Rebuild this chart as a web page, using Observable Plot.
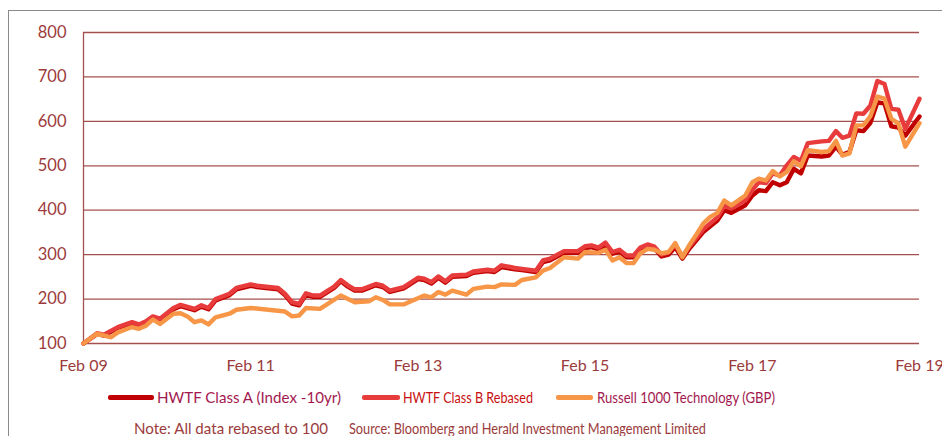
<!DOCTYPE html>
<html>
<head>
<meta charset="utf-8">
<script src="https://cdn.jsdelivr.net/npm/d3@7"></script>
<script src="https://cdn.jsdelivr.net/npm/@observablehq/plot@0.6"></script>
<style>
  html, body { margin: 0; padding: 0; background: #fff; }
  body { width: 942px; height: 436px; overflow: hidden; position: relative; font-family: Lato, "Open Sans", sans-serif; }
  #frame { position: absolute; left: 8px; top: 10px; width: 1000px; height: 500px; border: 1.5px solid #8a8a8a; box-sizing: border-box; }
  #chart { position: absolute; left: 0; top: 0; }
  #chart svg { overflow: visible; }
  .sw { position: absolute; top: 395px; height: 4.5px; border-radius: 2px; }
  .txt { position: absolute; display: inline-block; white-space: pre; transform-origin: 0 50%; font-size: 16px; line-height: 18px; }
</style>
</head>
<body>
<div id="frame"></div>
<div id="chart"></div>
<span class="sw" id="swA" style="left:108px;width:46px"></span>
<span class="sw" id="swB" style="left:362px;width:38px"></span>
<span class="sw" id="swR" style="left:556px;width:37px"></span>
<span class="txt" id="labA" style="left:157px;top:388px" data-w="184"></span>
<span class="txt" id="labB" style="left:403px;top:388px" data-w="130"></span>
<span class="txt" id="labR" style="left:597px;top:388px" data-w="178"></span>
<span class="txt" id="note1" style="left:134px;top:419px;color:#9b3b3b" data-w="194"></span>
<span class="txt" id="note2" style="left:349px;top:419px;color:#9b3b3b" data-w="357"></span>
<script>
// ---- Data (rebased to 100, Feb 2009 = 100) ----
const seriesNames = ["HWTF Class A (Index -10yr)", "HWTF Class B Rebased", "Russell 1000 Technology (GBP)"];
const seriesColors = ["#c00000", "#e83c3c", "#f79646"];
const legendTextColors = ["#a3194f", "#c80f0f", "#a3194f"];
const xTickLabels = ["2009-02", "2011-02", "2013-02", "2015-02", "2017-02", "2019-02"];
const yTickValues = [100, 200, 300, 400, 500, 600, 700, 800];
const noteLeft = "Note: All data rebased to 100";
const noteRight = "Source: Bloomberg and Herald Investment Management Limited";

// Dates shared by HWTF Class A and Class B
const hwtfDates = [
  "2009-02","2009-04","2009-05","2009-07","2009-09","2009-10","2009-11","2009-12","2010-01","2010-03",
  "2010-04","2010-06","2010-07","2010-08","2010-09","2010-11","2010-12","2011-02","2011-03","2011-06",
  "2011-07","2011-08","2011-09","2011-10","2011-11","2011-12","2012-02","2012-03","2012-04","2012-05",
  "2012-06","2012-08","2012-09","2012-10","2012-12","2013-02","2013-03","2013-04","2013-05","2013-06",
  "2013-07","2013-09","2013-10","2013-12","2014-01","2014-02","2014-04","2014-05","2014-07","2014-08",
  "2014-09","2014-11","2015-01","2015-02","2015-03","2015-04","2015-05","2015-06","2015-07","2015-08",
  "2015-09","2015-10","2015-11","2015-12","2016-01","2016-02","2016-03","2016-04","2016-05","2016-07",
  "2016-09","2016-10","2016-11","2017-01","2017-02","2017-03","2017-04","2017-05","2017-06","2017-07",
  "2017-08","2017-09","2017-10","2017-12","2018-01","2018-02","2018-03","2018-04","2018-05","2018-06",
  "2018-07","2018-08","2018-09","2018-10","2018-11","2018-12","2019-02"
];
const classA = [
  100,121,118,135,146,140,148,158,153,177,
  184,175,183,177,197,209,222,230,227,222,
  209,190,186,210,205,205,225,240,228,219,
  219,231,227,216,224,245,243,235,248,237,
  250,252,259,263,261,272,267,265,261,283,
  287,304,304,315,317,312,322,302,307,294,
  294,312,318,314,296,300,317,291,313,351,
  377,400,394,411,433,445,443,463,456,463,
  493,483,523,521,523,543,525,531,580,578,
  596,643,640,589,586,568,611
];
const classB = [
  100,123,120,137,148,143,150,161,156,180,
  187,178,186,180,200,212,225,233,230,225,
  212,193,189,213,208,208,228,243,231,222,
  222,234,230,219,227,248,246,238,251,240,
  253,255,262,266,264,276,270,268,264,287,
  291,308,308,319,321,316,327,306,311,298,
  298,316,323,318,300,305,322,296,318,357,
  384,410,404,422,445,463,461,483,478,501,
  520,511,551,555,556,578,563,568,618,617,
  635,691,684,628,626,583,651
];
const russellDates = [
  "2009-02","2009-04","2009-06","2009-07","2009-09","2009-10","2009-11","2009-12","2010-01","2010-03",
  "2010-04","2010-05","2010-06","2010-07","2010-08","2010-09","2010-11","2010-12","2011-02","2011-07",
  "2011-08","2011-09","2011-10","2011-12","2012-03","2012-05","2012-07","2012-08","2012-09","2012-10",
  "2012-12","2013-01","2013-03","2013-04","2013-05","2013-06","2013-07","2013-09","2013-10","2013-12",
  "2014-01","2014-02","2014-04","2014-05","2014-07","2014-08","2014-09","2014-11","2015-01","2015-02",
  "2015-04","2015-05","2015-06","2015-07","2015-08","2015-09","2015-10","2015-11","2015-12","2016-01",
  "2016-02","2016-03","2016-04","2016-05","2016-06","2016-07","2016-08","2016-09","2016-10","2016-11",
  "2017-01","2017-02","2017-03","2017-04","2017-05","2017-06","2017-07","2017-08","2017-09","2017-10",
  "2017-12","2018-01","2018-02","2018-03","2018-04","2018-05","2018-06","2018-07","2018-08","2018-09",
  "2018-10","2018-11","2018-12","2019-02"
];
const russell = [
  100,122,114,125,137,133,140,154,144,167,
  168,161,148,152,143,159,167,176,180,172,
  161,163,180,178,208,193,195,204,198,188,
  188,195,208,204,216,210,219,210,223,228,
  227,233,232,243,249,264,270,294,291,306,
  304,311,287,294,281,281,303,313,311,303,
  306,326,294,321,345,370,385,394,422,411,
  433,463,471,467,488,476,486,510,499,535,
  531,533,556,523,528,591,591,611,656,651,
  606,595,543,596
];

// ---- Build table ----
const parse = d3.utcParse("%Y-%m");
const rows = [];
hwtfDates.forEach((d, i) => rows.push({date: parse(d), value: classA[i], series: seriesNames[0]}));
hwtfDates.forEach((d, i) => rows.push({date: parse(d), value: classB[i], series: seriesNames[1]}));
russellDates.forEach((d, i) => rows.push({date: parse(d), value: russell[i], series: seriesNames[2]}));

const gridColor = "#a4504e";
const xStart = parse(xTickLabels[0]);
const xEnd = parse(xTickLabels[xTickLabels.length - 1]);

const chart = Plot.plot({
  width: 942,
  height: 380,
  marginLeft: 83,
  marginRight: 23,
  marginTop: 32,
  marginBottom: 37,
  style: {background: "transparent", fontFamily: "Lato, 'Open Sans', sans-serif", fontSize: "16px", color: "#9b3b3b"},
  x: {type: "utc", domain: [xStart, xEnd]},
  y: {domain: [100, 800]},
  marks: [
    Plot.gridY(yTickValues, {stroke: gridColor, strokeOpacity: 1, strokeWidth: 1.3}),
    Plot.ruleX([xStart], {y1: 100, y2: 800, stroke: gridColor, strokeWidth: 1.3}),
    Plot.axisY(yTickValues, {tickSize: 0, tickPadding: 17, label: null, fill: "#9b3b3b", fontSize: 16.5}),
    Plot.axisX(xTickLabels.map(parse), {tickSize: 0, tickPadding: 16, label: null, tickFormat: d3.utcFormat("%b %y"), fill: "#9b3b3b", fontSize: 16}),
    Plot.line(rows.filter(r => r.series === seriesNames[0]), {x: "date", y: "value", stroke: seriesColors[0], strokeWidth: 4.4, strokeLinejoin: "round"}),
    Plot.line(rows.filter(r => r.series === seriesNames[1]), {x: "date", y: "value", stroke: seriesColors[1], strokeWidth: 4.4, strokeLinejoin: "round"}),
    Plot.line(rows.filter(r => r.series === seriesNames[2]), {x: "date", y: "value", stroke: seriesColors[2], strokeWidth: 4.4, strokeLinejoin: "round"})
  ]
});
document.getElementById("chart").appendChild(chart);

// ---- Legend & note ----
["swA","swB","swR"].forEach((id, i) => { document.getElementById(id).style.background = seriesColors[i]; });
["labA","labB","labR"].forEach((id, i) => {
  const el = document.getElementById(id);
  el.textContent = seriesNames[i];
  el.style.color = legendTextColors[i];
});
document.getElementById("note1").textContent = noteLeft;
document.getElementById("note2").textContent = noteRight;
// squeeze texts horizontally to the reference widths
document.querySelectorAll(".txt").forEach(el => {
  const w = el.getBoundingClientRect().width;
  const target = +el.dataset.w;
  if (w > 0) el.style.transform = `scaleX(${target / w})`;
});
</script>
</body>
</html>
